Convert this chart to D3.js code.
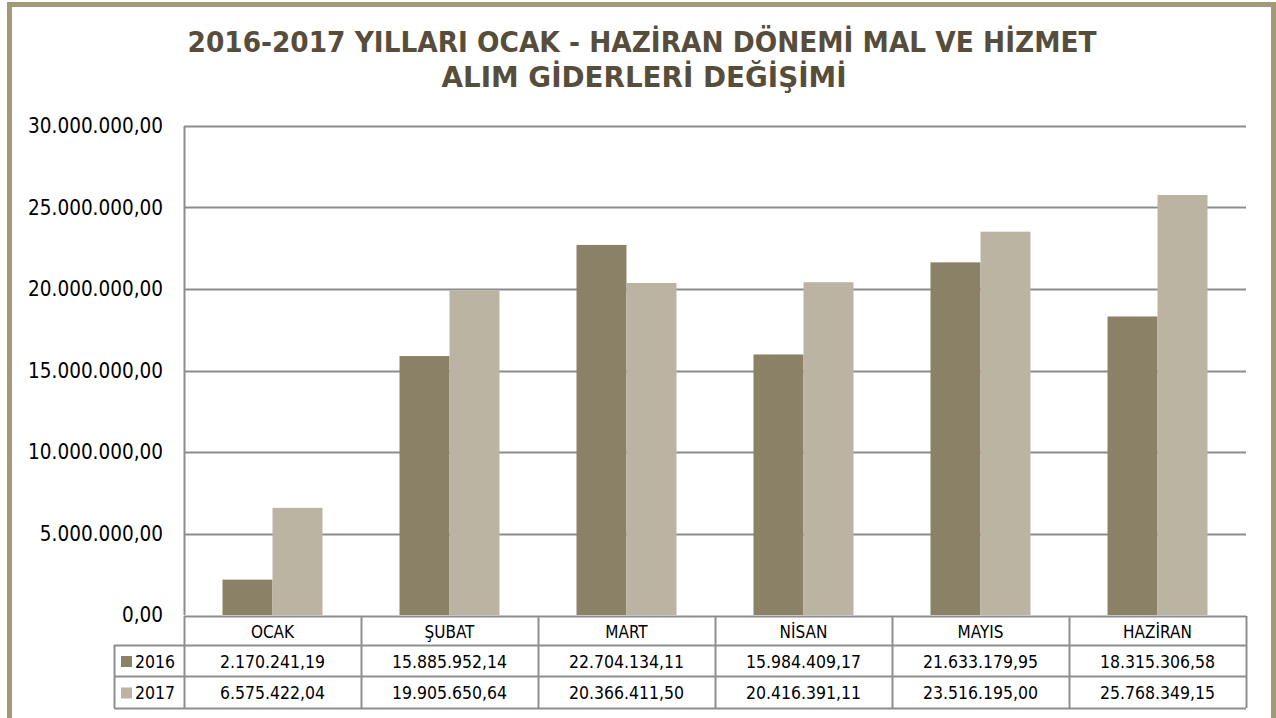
<!DOCTYPE html>
<html>
<head>
<meta charset="utf-8">
<script src="https://cdn.jsdelivr.net/npm/d3@7"></script>
<style>
  html, body { margin: 0; padding: 0; background: #fff; }
  svg { display: block; }
</style>
</head>
<body>
<div class="chart"></div>
<script>
const titleLines = ["2016-2017 YILLARI OCAK - HAZİRAN DÖNEMİ MAL VE HİZMET", "ALIM GİDERLERİ DEĞİŞİMİ"]
const months = ["OCAK", "ŞUBAT", "MART", "NİSAN", "MAYIS", "HAZİRAN"]
const seriesNames = ["2016", "2017"]
const values2016 = [2170241.19, 15885952.14, 22704134.11, 15984409.17, 21633179.95, 18315306.58]
const values2017 = [6575422.04, 19905650.64, 20366411.50, 20416391.11, 23516195.00, 25768349.15]
const yTicks = [0, 5000000, 10000000, 15000000, 20000000, 25000000, 30000000]

const width = 1276
const height = 718
const margin = { top: 126, right: 30, bottom: 103, left: 184 }
const graphHeight = height - margin.top - margin.bottom
const graphWidth = width - margin.left - margin.right
const color = ["#8B8166", "#BCB4A2"]
const font = "'DejaVu Sans Condensed', 'DejaVu Sans', sans-serif"

// turkish number format 1.234.567,89
const trFormat = d3.formatLocale({ decimal: ",", thousands: ".", grouping: [3], currency: ["", ""] }).format(",.2f")

const series = seriesNames.map((name, i) => ({ name, values: i === 0 ? values2016 : values2017 }))

const svg = d3.select(".chart").append("svg").attr("width", width).attr("height", height)

// outer frame
svg.append("rect")
  .attr("x", 9.5).attr("y", 4.5)
  .attr("width", 1264).attr("height", 800)
  .attr("fill", "none").attr("stroke", "#A39877").attr("stroke-width", 5)

// title
const title = svg.append("g").attr("font-family", font).attr("font-weight", "bold")
  .attr("font-size", 28).attr("fill", "#574D3B").attr("text-anchor", "middle")
const titleFit = [909, 405]
titleLines.forEach((line, i) => {
  title.append("text").attr("x", 642 + i * 2).attr("y", 52 + i * 35)
    .attr("textLength", titleFit[i]).attr("lengthAdjust", "spacingAndGlyphs")
    .text(line)
})

const graph = svg.append("g").attr("transform", `translate(${margin.left}, ${margin.top})`)

const yScale = d3.scaleLinear().domain([0, 30000000]).range([graphHeight, 0])
const xScale = d3.scaleBand().domain(months).range([0, graphWidth]).padding(0)
const xSub = d3.scaleBand().domain(seriesNames).range([0, xScale.bandwidth()]).paddingInner(0).paddingOuter(0.77)

// gridlines
graph.append("g").selectAll("line").data(yTicks.filter(d => d > 0)).join("line")
  .attr("x1", 0).attr("x2", graphWidth)
  .attr("y1", d => Math.round(yScale(d)) + 0.5).attr("y2", d => Math.round(yScale(d)) + 0.5)
  .attr("stroke", "#8C8C8C").attr("stroke-width", 2)

// y axis labels
const yAxis = d3.axisLeft(yScale).tickValues(yTicks).tickSize(0).tickPadding(21).tickFormat(trFormat)
const yAxisGroup = graph.append("g").call(yAxis)
yAxisGroup.select(".domain").remove()
yAxisGroup.selectAll("text").attr("font-family", font).attr("font-size", 20.5).attr("fill", "#000")

// bars
graph.append("g").selectAll("g").data(series).join("g")
  .attr("fill", (d, i) => color[i])
  .selectAll("rect").data(d => d.values.map((v, j) => ({ name: d.name, month: months[j], value: v }))).join("rect")
  .attr("x", d => xScale(d.month) + xSub(d.name))
  .attr("width", xSub.bandwidth())
  .attr("y", d => yScale(d.value))
  .attr("height", d => graphHeight - yScale(d.value))

// left axis line
graph.append("line").attr("x1", 0.5).attr("x2", 0.5).attr("y1", 0).attr("y2", graphHeight)
  .attr("stroke", "#8C8C8C").attr("stroke-width", 2)

// data table
const rowY = [graphHeight + 1, graphHeight + 30, graphHeight + 61, graphHeight + 93]
const legendX = -70
const table = graph.append("g").attr("font-family", font).attr("font-size", 17.5).attr("fill", "#000")
const lineColor = "#8E8E8E"

// horizontal lines
rowY.forEach((y, i) => {
  table.append("line")
    .attr("x1", i === 0 ? 0 : legendX).attr("x2", graphWidth)
    .attr("y1", y + 0.5).attr("y2", y + 0.5)
    .attr("stroke", lineColor).attr("stroke-width", 2)
})
// vertical lines
months.forEach(m => {
  table.append("line").attr("x1", xScale(m) + 0.5).attr("x2", xScale(m) + 0.5)
    .attr("y1", rowY[0]).attr("y2", rowY[3]).attr("stroke", lineColor).attr("stroke-width", 2)
})
table.append("line").attr("x1", graphWidth + 0.5).attr("x2", graphWidth + 0.5)
  .attr("y1", rowY[0]).attr("y2", rowY[3]).attr("stroke", lineColor).attr("stroke-width", 2)
table.append("line").attr("x1", legendX + 0.5).attr("x2", legendX + 0.5)
  .attr("y1", rowY[1]).attr("y2", rowY[3]).attr("stroke", lineColor).attr("stroke-width", 2)

// category labels
table.selectAll(".cat").data(months).join("text").attr("class", "cat")
  .attr("x", d => xScale(d) + xScale.bandwidth() / 2)
  .attr("y", (rowY[0] + rowY[1]) / 2 + 1).attr("dy", "0.36em").attr("text-anchor", "middle")
  .attr("font-size", 17)
  .text(d => d)

// value rows + legend keys
series.forEach((s, i) => {
  const cy = (rowY[i + 1] + rowY[i + 2]) / 2 + 1
  table.append("rect").attr("x", legendX + 7).attr("y", cy - 5.5).attr("width", 11).attr("height", 11).attr("fill", color[i])
  table.append("text").attr("x", legendX + 21).attr("y", cy).attr("dy", "0.36em").text(s.name)
  table.selectAll(`.v${i}`).data(s.values).join("text").attr("class", `v${i}`)
    .attr("x", (d, j) => xScale(months[j]) + xScale.bandwidth() / 2)
    .attr("y", cy).attr("dy", "0.36em").attr("text-anchor", "middle")
    .text(d => trFormat(d))
})
</script>
</body>
</html>
